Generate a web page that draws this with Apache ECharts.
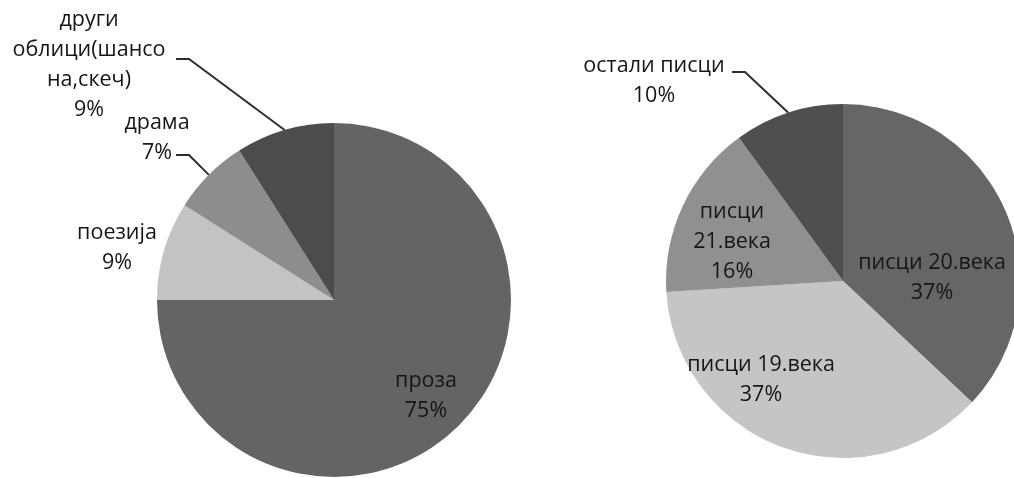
<!DOCTYPE html>
<html>
<head>
<meta charset="utf-8">
<script src="https://cdn.jsdelivr.net/npm/echarts@6/dist/echarts.min.js"></script>
<style>
  html, body { margin: 0; padding: 0; background: #ffffff; }
  #chart { width: 1014px; height: 478px; }
</style>
</head>
<body>
<div id="chart"></div>
<script>
// Жанрови (лева пита)
const genreNames = ['проза', 'поезија', 'драма', 'други\nоблици(шансо\nна,скеч)'];
const genreValues = [75, 9, 7, 9];

// Писци по веку (десна пита)
const writerNames = ['писци 20.века', 'писци 19.века', 'писци\n21.века', 'остали писци'];
const writerValues = [37, 37, 16, 10];

const genreColors = ['#646464', '#c3c3c3', '#8d8d8d', '#4c4c4c'];
const writerColors = ['#666666', '#c5c5c5', '#909090', '#4f4f4f'];

// Label anchors (block centre) and leader-line end points, per slice
const genreLabelPos = [
  { x: 426, y: 396, inside: true },
  { x: 117, y: 248 },
  { x: 157, y: 138, line: [[189, 155], [176, 155]] },
  { x: 89, y: 65, line: [[189, 59], [176, 59]] }
];
const writerLabelPos = [
  { x: 932, y: 278, inside: true },
  { x: 761, y: 380, inside: true },
  { x: 732, y: 242, inside: true },
  { x: 654, y: 81, line: [[745, 72], [732, 72]] }
];

const FONT = '"Open Sans", "Noto Sans", sans-serif';

function buildData(names, values, colors, pos) {
  return names.map((n, i) => ({
    name: n,
    value: values[i],
    itemStyle: { color: colors[i] },
    label: { position: pos[i].inside ? 'inside' : 'outside' },
    labelLine: { show: !!pos[i].line }
  }));
}

function makeLayout(pos) {
  return function (params) {
    const p = pos[params.dataIndex];
    const out = { x: p.x, y: p.y, align: 'center', verticalAlign: 'middle' };
    if (p.line && params.labelLinePoints) {
      out.labelLinePoints = [params.labelLinePoints[0], p.line[0], p.line[1]];
    }
    return out;
  };
}

const labelStyle = {
  formatter: '{b}\n{c}%',
  fontFamily: FONT,
  fontSize: 21.5,
  lineHeight: 30,
  color: '#161616',
  align: 'center'
};

const chart = echarts.init(document.getElementById('chart'), null, { renderer: 'canvas' });
chart.setOption({
  backgroundColor: '#ffffff',
  animation: false,
  series: [
    {
      type: 'pie',
      center: [334, 300],
      radius: 177,
      startAngle: 90,
      clockwise: true,
      avoidLabelOverlap: false,
      silent: true,
      itemStyle: { borderWidth: 0 },
      label: labelStyle,
      labelLine: { lineStyle: { color: '#2e2e2e', width: 2 } },
      labelLayout: makeLayout(genreLabelPos),
      data: buildData(genreNames, genreValues, genreColors, genreLabelPos)
    },
    {
      type: 'pie',
      center: [843, 281],
      radius: 177,
      startAngle: 90,
      clockwise: true,
      avoidLabelOverlap: false,
      silent: true,
      itemStyle: { borderWidth: 0 },
      label: labelStyle,
      labelLine: { lineStyle: { color: '#2e2e2e', width: 2 } },
      labelLayout: makeLayout(writerLabelPos),
      data: buildData(writerNames, writerValues, writerColors, writerLabelPos)
    }
  ]
});
</script>
</body>
</html>
